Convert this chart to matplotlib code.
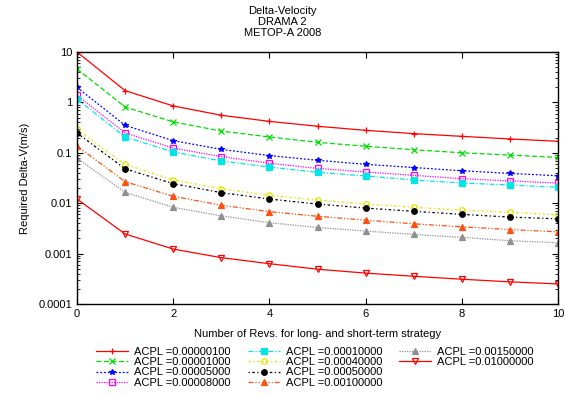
import numpy as np
import matplotlib
matplotlib.use('Agg')
import matplotlib.pyplot as plt
from matplotlib.lines import Line2D
from matplotlib.ticker import LogLocator, NullFormatter

plt.rcParams['font.family'] = ['Liberation Sans', 'DejaVu Sans']
plt.rcParams['font.size'] = 8

revs = [0, 1, 2, 3, 4, 5, 6, 7, 8, 9, 10]

acpl_labels = ['ACPL =0.00000100', 'ACPL =0.00001000', 'ACPL =0.00005000',
               'ACPL =0.00008000', 'ACPL =0.00010000', 'ACPL =0.00040000',
               'ACPL =0.00050000', 'ACPL =0.00100000', 'ACPL =0.00150000',
               'ACPL =0.01000000']

dv_1e6 = [10.0, 1.71, 0.85, 0.555, 0.42, 0.336, 0.279, 0.24, 0.212, 0.188, 0.169]
dv_1e5 = [4.6, 0.81, 0.41, 0.27, 0.206, 0.161, 0.135, 0.115, 0.1, 0.09, 0.081]
dv_5e5 = [1.99, 0.35, 0.174, 0.117, 0.088, 0.071, 0.059, 0.051, 0.044, 0.039, 0.035]
dv_8e5 = [1.38, 0.247, 0.124, 0.084, 0.062, 0.049, 0.0416, 0.0357, 0.0306, 0.0276, 0.0251]
dv_1e4 = [1.17, 0.206, 0.104, 0.069, 0.052, 0.041, 0.0347, 0.0289, 0.0251, 0.023, 0.0207]
dv_4e4 = [0.29, 0.059, 0.0289, 0.0194, 0.0143, 0.0116, 0.0096, 0.0083, 0.0073, 0.0066, 0.0059]
dv_5e4 = [0.247, 0.048, 0.0244, 0.0162, 0.0121, 0.0096, 0.008, 0.0069, 0.006, 0.0053, 0.0049]
dv_1e3 = [0.136, 0.0267, 0.0137, 0.0091, 0.0068, 0.0055, 0.0046, 0.0039, 0.0034, 0.003, 0.0027]
dv_15e3 = [0.078, 0.0164, 0.0083, 0.0056, 0.0041, 0.0033, 0.0028, 0.0024, 0.0021, 0.0018, 0.00164]
dv_1e2 = [0.0121, 0.00245, 0.00123, 0.00083, 0.00063, 0.00049, 0.00041, 0.000355, 0.00031, 0.000275, 0.00025]

series = [dv_1e6, dv_1e5, dv_5e5, dv_8e5, dv_1e4, dv_4e4, dv_5e4, dv_1e3, dv_15e3, dv_1e2]

# gnuplot-like styles: colour, dash, marker, filled
styles = [
    ('#ff0000', '-', '+', True),
    ('#00dd00', (0, (4, 2)), 'x', True),
    ('#0000ff', (0, (1.5, 1.5)), '*', True),
    ('#ff00ff', (0, (1, 1)), 's', False),
    ('#00e5e5', (0, (4, 1.5, 1, 1.5)), 's', True),
    ('#e5e500', (0, (2, 2, 1, 2)), 'o', False),
    ('#000000', (0, (1, 2, 2, 2)), 'o', True),
    ('#ff5010', (0, (4, 1.5, 1, 1.5, 1, 1.5)), '^', True),
    ('#909090', (0, (1, 1)), '^', True),
    ('#ff0000', '-', 'v', False),
]

fig = plt.figure(figsize=(5.65, 3.95), dpi=100)
ax = fig.add_axes([0.1363, 0.2304, 0.8513, 0.638])

handles = []
for vals, lab, (c, ls, mk, filled) in zip(series, acpl_labels, styles):
    fc = c if filled else 'none'
    ln, = ax.plot(revs, vals, color=c, linestyle=ls, linewidth=0.9,
                  marker=mk, markersize=4, markerfacecolor=fc,
                  markeredgecolor=c, markeredgewidth=0.9, label=lab)
    handles.append(ln)

ax.set_yscale('log')
ax.set_xlim(0, 10)
ax.set_ylim(0.0001, 10)
ax.set_xticks([0, 2, 4, 6, 8, 10])
ax.set_yticks([0.0001, 0.001, 0.01, 0.1, 1, 10])
ax.set_yticklabels(['0.0001', '0.001', '0.01', '0.1', '1', '10'])
ax.yaxis.set_minor_locator(LogLocator(base=10, subs=np.arange(2, 10)))
ax.yaxis.set_minor_formatter(NullFormatter())
ax.tick_params(which='both', direction='in', top=True, right=True)
ax.tick_params(which='major', length=4, width=0.8)
ax.tick_params(which='minor', length=2, width=0.6)
for s in ax.spines.values():
    s.set_linewidth(1.0)

ax.set_xlabel('Number of Revs. for long- and short-term strategy', labelpad=7)
ax.set_ylabel('Required Delta-V(m/s)', labelpad=6)
fig.text(0.5, 0.984, 'Delta-Velocity\nDRAMA 2\nMETOP-A 2008', ha='center', va='top',
         linespacing=1.1)

# pad with blank entries so columns are filled 4, 4, 2 like gnuplot
blank = Line2D([], [], linestyle='none')
leg_handles = handles + [blank, blank]
leg_labels = acpl_labels + ['', '']
fig.legend(leg_handles, leg_labels, ncol=3, loc='upper left',
           bbox_to_anchor=(0.17, 0.122), frameon=False,
           handlelength=2.9, handletextpad=0.55, columnspacing=1.5,
           labelspacing=0.03, borderpad=0, borderaxespad=0)

fig.savefig('out.png', dpi=100)
